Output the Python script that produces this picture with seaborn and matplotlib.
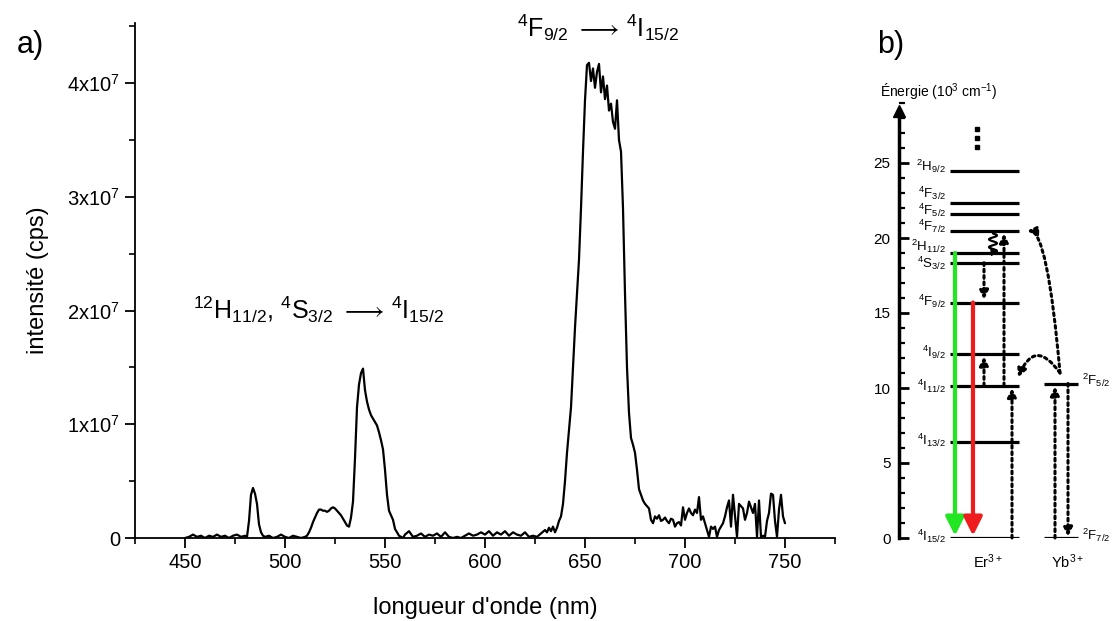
import matplotlib
matplotlib.use('Agg')
import matplotlib.pyplot as plt
from matplotlib.ticker import MultipleLocator, FuncFormatter
import seaborn as sns
import numpy as np
import pandas as pd

# emission spectrum (intensity in 10^6 cps)
wavelength = [450, 452, 454, 456, 458, 460, 462, 464, 466, 468, 470, 472, 474, 476, 478, 480,
              481, 482, 483, 484, 485, 486, 487, 488, 489, 490,
              492, 494, 496, 498, 500, 502, 504, 506, 508, 510,
              511, 512, 513, 514, 515, 516, 517, 518, 519, 520, 521, 522, 523, 524, 525,
              526, 527, 528, 529, 530, 531, 532, 533, 534, 535, 536, 537, 538, 539, 540,
              541, 542, 543, 544, 545, 546, 547, 548, 549, 550, 551, 552, 553, 554, 555,
              556, 557, 558, 559,
              560, 562, 564, 566, 568, 570, 572, 574, 576, 578, 580, 582, 584, 586, 588,
              590, 592, 594, 596, 598, 600, 602, 604, 606, 608, 610, 612, 614, 616, 618,
              620, 622, 624, 626, 628, 630,
              631, 632, 633, 634, 635, 636, 637, 638, 639, 640, 641, 642, 643, 644, 645,
              646, 647, 648, 649, 650, 651, 652, 653, 654, 655, 656, 657, 658, 659, 660,
              661, 662, 663, 664, 665, 666, 667, 668, 669, 670, 671, 672, 673, 674, 675,
              676, 677, 678, 679, 680, 681, 682, 683, 684, 685, 686, 687, 688, 689, 690,
              691, 692, 693, 694, 695, 696, 697, 698, 699, 700, 701, 702, 703, 704, 705,
              706, 707, 708, 709, 710, 711, 712, 713, 714, 715, 716, 717, 718, 719, 720,
              721, 722, 723, 724, 725, 726, 727, 728, 729, 730, 731, 732, 733, 734, 735,
              736, 737, 738, 739, 740, 741, 742, 743, 744, 745, 746, 747, 748, 749, 750]
intensity = [0.0, 0.1, 0.3, 0.1, 0.2, 0.0, 0.2, 0.1, 0.3, 0.1, 0.2, 0.0, 0.2, 0.3, 0.1, 0.2,
             0.1, 1.5, 3.8, 4.4, 3.9, 3.0, 1.2, 0.5, 0.2, 0.1,
             0.2, 0.0, 0.1, 0.3, 0.1, 0.0, 0.2, 0.1, 0.0, 0.1,
             0.2, 0.5, 0.9, 1.4, 1.8, 2.2, 2.5, 2.5, 2.4, 2.4, 2.3, 2.4, 2.6, 2.7, 2.6,
             2.4, 2.2, 2.0, 1.7, 1.4, 1.1, 1.0, 1.8, 3.2, 7.0, 11.5, 13.5, 14.5, 14.9, 13.0,
             12.0, 11.3, 10.8, 10.5, 10.2, 9.9, 9.3, 8.6, 7.8, 6.0, 3.8, 2.4, 2.0, 1.6, 0.8,
             0.5, 0.2, 0.1, 0.0,
             0.3, 0.6, 0.1, 0.2, 0.4, 0.1, 0.3, 0.2, 0.4, 0.1, 0.5, 0.1, 0.0, 0.1, 0.0,
             0.2, 0.4, 0.2, 0.3, 0.5, 0.3, 0.6, 0.2, 0.5, 0.3, 0.6, 0.2, 0.5, 0.3, 0.2,
             0.5, 0.1, 0.2, 0.1, 0.4, 0.7,
             0.5, 0.9, 0.6, 1.0, 0.5, 0.9, 1.5, 1.9, 3.0, 5.0, 7.5, 9.5, 11.5, 15.0, 18.5,
             21.5, 24.5, 29.0, 34.0, 38.5, 41.6, 41.8, 40.2, 41.3, 39.6, 41.0, 41.7, 39.2, 40.6, 38.6,
             39.8, 37.6, 38.2, 36.6, 36.0, 38.5, 35.0, 34.0, 29.0, 21.5, 15.0, 11.0, 8.8, 8.2, 7.5,
             6.0, 4.3, 3.8, 3.3, 3.0, 2.8, 2.6, 1.6, 1.3, 1.9, 1.7, 2.0, 1.5, 1.6, 1.8,
             1.5, 1.3, 1.7, 1.6, 1.0, 1.3, 1.4, 1.1, 2.7, 1.6, 2.2, 2.6, 2.2, 2.0, 2.5,
             2.2, 3.6, 1.6, 1.9, 1.3, 0.7, 0.1, 1.0, 0.8, 1.0, 0.1, 0.7, 1.0, 1.3, 1.9,
             2.7, 3.3, 1.0, 3.8, 2.0, 0.1, 3.0, 2.8, 2.6, 1.6, 2.2, 3.2, 2.7, 2.2, 3.0,
             0.1, 3.3, 0.1, 0.2, 0.1, 1.5, 2.2, 3.9, 3.8, 1.5, 0.1, 2.5, 3.8, 1.9, 1.3]

# energy levels (10^3 cm-1)
er_labels = ['$^{4}$I$_{15/2}$', '$^{4}$I$_{13/2}$', '$^{4}$I$_{11/2}$', '$^{4}$I$_{9/2}$',
             '$^{4}$F$_{9/2}$', '$^{4}$S$_{3/2}$', '$^{2}$H$_{11/2}$', '$^{4}$F$_{7/2}$',
             '$^{4}$F$_{5/2}$', '$^{4}$F$_{3/2}$', '$^{2}$H$_{9/2}$']
er_energy = [0.0, 6.4, 10.15, 12.3, 15.7, 18.35, 19.0, 20.47, 21.6, 22.35, 24.5]
yb_labels = ['$^{2}$F$_{7/2}$', '$^{2}$F$_{5/2}$']
yb_energy = [0.0, 10.3]

# where the level names sit (crowded ones are nudged, as in the original)
er_label_y = [0.1, 6.5, 10.1, 12.4, 15.75, 18.3, 19.45, 20.75, 21.85, 23.0, 24.75]

sns.set_style('ticks', {'axes.edgecolor': 'black', 'xtick.color': 'black',
                        'ytick.color': 'black', 'text.color': 'black',
                        'axes.labelcolor': 'black'})
plt.rcParams['font.family'] = ['Liberation Sans', 'DejaVu Sans']
plt.rcParams['mathtext.fontset'] = 'custom'
plt.rcParams['mathtext.rm'] = 'Liberation Sans'
plt.rcParams['mathtext.it'] = 'Liberation Sans:italic'
plt.rcParams['mathtext.bf'] = 'Liberation Sans:bold'
plt.rcParams['mathtext.fallback'] = 'stixsans'

fig = plt.figure(figsize=(11.17, 6.21), dpi=100)

# ---- a) spectrum
ax = fig.add_axes([135 / 1117, 1 - 538 / 621, 700 / 1117, 515 / 621])
df = pd.DataFrame({'wl': wavelength, 'I': np.array(intensity) * 1e6})
sns.lineplot(data=df, x='wl', y='I', color='black', lw=1.6, ax=ax)
ax.set_xlim(425, 775)
ax.set_ylim(0, 4.53e7)
ax.xaxis.set_major_locator(MultipleLocator(50))
ax.xaxis.set_minor_locator(MultipleLocator(25))
ax.yaxis.set_major_locator(MultipleLocator(1e7))
ax.yaxis.set_minor_locator(MultipleLocator(0.5e7))
ax.yaxis.set_major_formatter(FuncFormatter(
    lambda v, p: '0' if v == 0 else f'{int(round(v / 1e7))}x10$^{{7}}$'))
ax.spines[['top', 'right']].set_visible(False)
for s in ['left', 'bottom']:
    ax.spines[s].set_linewidth(1.3)
ax.tick_params(which='major', direction='out', length=7, width=1.3, labelsize=14.5)
ax.tick_params(which='minor', direction='out', length=4, width=1.2)
ax.set_xlabel("longueur d'onde (nm)", fontsize=17, labelpad=18)
ax.set_ylabel('intensité (cps)', fontsize=17, labelpad=13)

ax.text(454, 1.93e7, r'$^{12}$H$_{11/2}$, $^{4}$S$_{3/2}$ $\longrightarrow\,$$^{4}$I$_{15/2}$',
        fontsize=18, ha='left', va='baseline')
ax.text(616, 4.41e7, r'$^{4}$F$_{9/2}$ $\longrightarrow\,$$^{4}$I$_{15/2}$',
        fontsize=18, ha='left', va='baseline')

fig.text(17 / 1117, 1 - 45 / 621, 'a)', fontsize=22, va='center')
fig.text(877 / 1117, 1 - 45 / 621, 'b)', fontsize=22, va='center')

# ---- b) energy diagram
bx = fig.add_axes([899 / 1117, 1 - 538 / 621, 218 / 1117, 435 / 621])
bx.set_xlim(0, 218)
bx.set_ylim(0, 29)
bx.spines[['top', 'right', 'bottom']].set_visible(False)
bx.spines['left'].set_linewidth(2.5)
bx.spines['left'].set_bounds(0, 28.3)
bx.plot([0], [28.5], marker='^', ms=9, color='black', clip_on=False)
bx.set_xticks([])
bx.yaxis.set_minor_locator(MultipleLocator(1))
bx.set_yticks([0, 5, 10, 15, 20, 25])
bx.tick_params(which='major', direction='in', length=7, width=2, labelsize=11, pad=6)
bx.tick_params(which='minor', direction='in', length=4, width=1.6)
bx.text(40, 29.7, 'Énergie (10$^{3}$ cm$^{-1}$)', fontsize=10, ha='center', va='center')

bx.hlines(er_energy, 51, 120, color='black', lw=2.3)
bx.hlines(yb_energy, 145, 179, color='black', lw=2.3)
for lab, y in zip(er_labels, er_label_y):
    bx.text(47, y, lab, fontsize=9.5, ha='right', va='center')
for lab, e in zip(yb_labels, yb_energy):
    bx.text(183, e + 0.2, lab, fontsize=9.5, ha='left', va='center')
bx.text(89, -1.6, 'Er$^{3+}$', fontsize=10.5, ha='center', va='center')
bx.text(168, -1.6, 'Yb$^{3+}$', fontsize=10.5, ha='center', va='center')
bx.plot([78, 78, 78], [27.3, 26.7, 26.06], 's', ms=3.5, color='black')

# radiative transitions
colour_arrow = dict(arrowstyle='-|>,head_length=0.8,head_width=0.4', lw=3,
                    mutation_scale=14, shrinkA=0, shrinkB=0)
bx.annotate('', xy=(56, 0.15), xytext=(56, 19.0),
            arrowprops=dict(color='#22e622', **colour_arrow))
bx.annotate('', xy=(74, 0.15), xytext=(74, 15.7),
            arrowprops=dict(color='#ee1c1c', **colour_arrow))

dot = dict(arrowstyle='-|>', lw=2.2, ls=(0, (0.9, 1.2)), color='black',
           mutation_scale=13, shrinkA=0, shrinkB=0)
for x, e0, e1 in [(113, 0.0, 10.0), (105, 10.15, 20.3), (85, 10.15, 12.1),
                  (85, 18.35, 15.9), (156, 0.0, 10.1), (169, 10.3, 0.1)]:
    bx.annotate('', xy=(x, e1), xytext=(x, e0), arrowprops=dot)

# energy transfer Yb -> Er
bx.annotate('', xy=(128, 20.47), xytext=(161, 11.0),
            arrowprops=dict(connectionstyle='angle3,angleA=95,angleB=0', **dot))
bx.annotate('', xy=(119, 10.7), xytext=(161, 11.0),
            arrowprops=dict(connectionstyle='arc3,rad=0.9', **dot))

# non-radiative relaxation (wavy)
t = np.linspace(0, 1, 60)
bx.plot(94 + 4 * np.sin(t * 5 * np.pi), 20.3 - 1.3 * t, color='black', lw=1.6)
bx.annotate('', xy=(92, 18.75), xytext=(94, 19.1),
            arrowprops=dict(arrowstyle='-|>', color='black', lw=1.2,
                            mutation_scale=11, shrinkA=0, shrinkB=0))

fig.savefig('out.png', dpi=100)
